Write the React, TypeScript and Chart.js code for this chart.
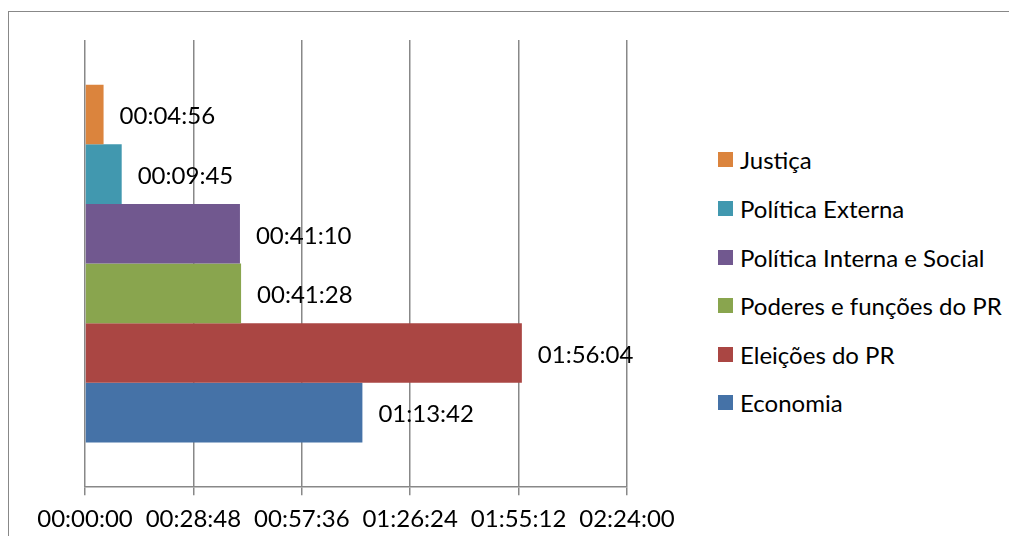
import React, { useEffect, useRef } from "react";
import { Chart, registerables } from "chart.js";

Chart.register(...registerables);

const categories = [""];
const seriesNames = [
  "Justiça",
  "Política Externa",
  "Política Interna e Social",
  "Poderes e funções do PR",
  "Eleições do PR",
  "Economia",
];
// durations in seconds
const seriesValues = [296, 585, 2470, 2488, 6964, 4422];
const seriesColors = ["#DB843D", "#4198AF", "#71588F", "#89A54E", "#AA4643", "#4572A7"];
const axisMax = 8640;
const axisStep = 1728;

const FONT = "Lato, 'Open Sans', sans-serif";

function fmt(sec: number): string {
  const h = Math.floor(sec / 3600);
  const m = Math.floor((sec % 3600) / 60);
  const s = Math.round(sec % 60);
  const p = (n: number) => String(n).padStart(2, "0");
  return `${p(h)}:${p(m)}:${p(s)}`;
}

const valueLabels = {
  id: "valueLabels",
  afterDatasetsDraw(chart: any) {
    const ctx = chart.ctx;
    ctx.save();
    ctx.font = `24px ${FONT}`;
    ctx.fillStyle = "#000";
    ctx.textAlign = "left";
    ctx.textBaseline = "middle";
    chart.data.datasets.forEach((ds: any, i: number) => {
      const meta = chart.getDatasetMeta(i);
      meta.data.forEach((el: any, j: number) => {
        ctx.fillText(fmt(ds.data[j]), el.x + 16, el.y + 2);
      });
    });
    ctx.restore();
  },
};

export default function App() {
  const ref = useRef<HTMLCanvasElement>(null);
  useEffect(() => {
    if (!ref.current) return;
    const chart = new Chart(ref.current, {
      type: "bar",
      data: {
        labels: categories,
        datasets: seriesNames.map((name, i) => ({
          label: name,
          data: [seriesValues[i]],
          backgroundColor: seriesColors[i],
          borderWidth: 0,
          categoryPercentage: 0.8,
          barPercentage: 1.0,
        })),
      },
      options: {
        indexAxis: "y",
        animation: false,
        responsive: false,
        devicePixelRatio: 1,
        layout: { padding: { left: 77, right: 81, top: 32, bottom: 0 } },
        plugins: {
          legend: { display: false },
          tooltip: { enabled: false },
        },
        scales: {
          x: {
            min: 0,
            max: axisMax,
            ticks: {
              stepSize: axisStep,
              callback: (v: any) => fmt(Number(v)),
              color: "#000",
              font: { family: FONT, size: 24 },
              padding: 10,
              maxRotation: 0,
              autoSkip: false,
            },
            grid: {
              color: "#888",
              lineWidth: 1.5,
              tickLength: 8,
              drawTicks: true,
            },
            border: { display: true, color: "#888", width: 1.5 },
          },
          y: {
            display: false,
          },
        },
      },
      plugins: [valueLabels],
    });
    return () => chart.destroy();
  }, []);

  const rowH = 48.6;
  return (
    <div style={{ position: "relative", width: 1009, height: 528, fontFamily: FONT }}>
      <div
        style={{
          position: "absolute",
          left: 0,
          top: 3,
          width: 1009,
          height: 525,
          borderLeft: "1px solid #888",
          borderTop: "1px solid #888",
          boxSizing: "border-box",
        }}
      />
      <canvas ref={ref} width={700} height={536} style={{ position: "absolute", left: 0, top: 0 }} />
      <div style={{ position: "absolute", left: 710, top: 160 - 8 - rowH / 2 }}>
        {seriesNames.map((n, i) => (
          <div key={n} style={{ height: rowH, display: "flex", alignItems: "center", whiteSpace: "nowrap" }}>
            <span style={{ width: 15, height: 15, background: seriesColors[i], display: "inline-block", marginRight: 7 }} />
            <span style={{ fontSize: 24, color: "#000" }}>{n}</span>
          </div>
        ))}
      </div>
    </div>
  );
}
